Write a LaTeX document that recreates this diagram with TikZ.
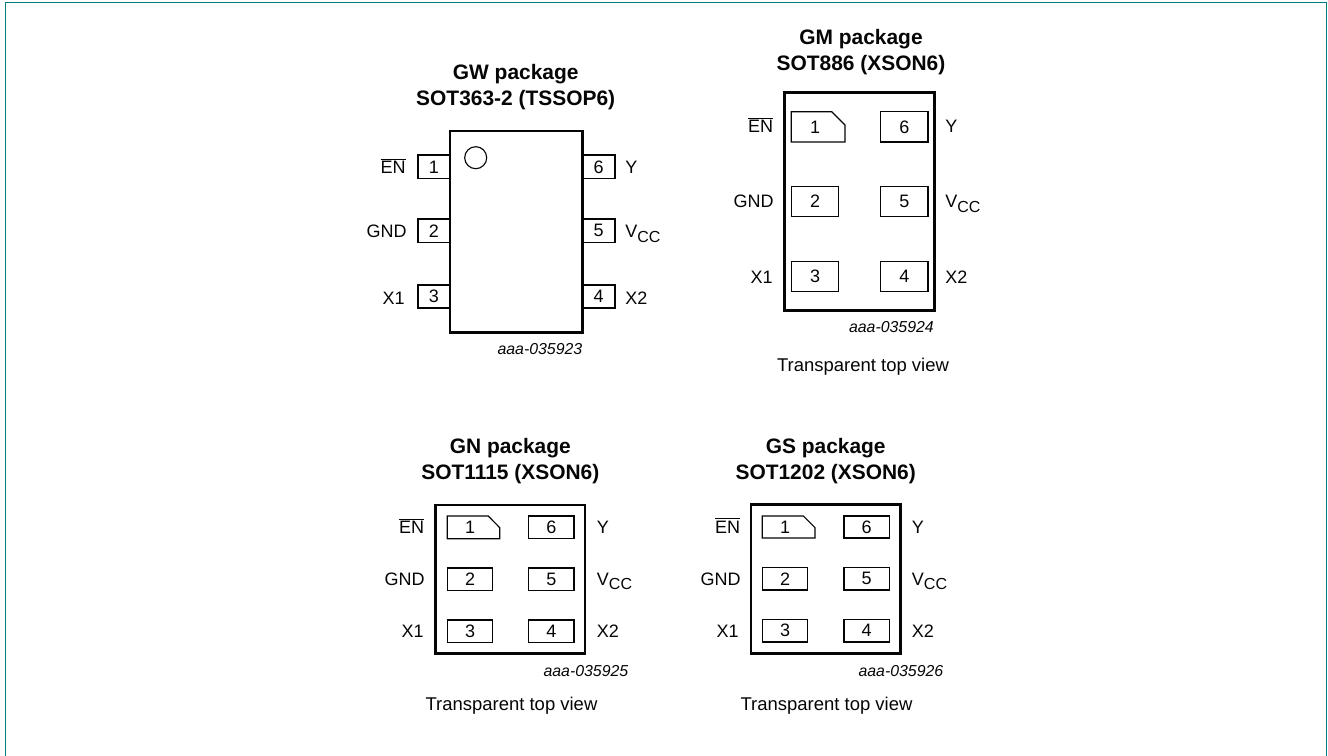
\documentclass[tikz,border=0pt]{standalone}
\usepackage{fontspec}
\setmainfont{Liberation Sans}
\definecolor{frameteal}{RGB}{0,125,130}
\definecolor{ink}{RGB}{5,5,5}
\newcommand{\ovEN}{$\overline{\mbox{EN}}$}
\newcommand{\vcc}{V\raisebox{-0.24em}{\fontsize{12}{12}\selectfont CC}}
\tikzset{
  frameline/.style={draw=frameteal,line width=1.2pt},
  bodybox/.style={draw=ink,line width=1.95pt,fill=white},
  padline/.style={draw=ink,line width=0.85pt,fill=white},
  padnum/.style={text=ink,inner sep=0pt,font=\fontsize{13.5}{16}\selectfont},
  pinL/.style={anchor=base east,text=ink,inner sep=0pt,font=\fontsize{13.5}{16}\selectfont},
  pinR/.style={anchor=base west,text=ink,inner sep=0pt,font=\fontsize{13.5}{16}\selectfont},
  titletext/.style={align=center,text=ink,inner sep=0pt,font=\fontsize{15.7}{19.5}\bfseries\selectfont},
  codetext/.style={anchor=east,text=ink,inner sep=0pt,font=\fontsize{11.9}{14}\itshape\selectfont},
  viewtext/.style={text=ink,inner sep=0pt,font=\fontsize{13.85}{16}\selectfont}
}
% name, x1, y1, x2, y2, number
\newcommand{\pkgpad}[6]{%
  \draw[padline] (#2,#3) rectangle (#4,#5);
  \node[padnum] (#1) at ({(#2+#4)/2},{(#3+#5)/2}) {#6};}
% name, x1, y1, x2 (text-side), xc (chamfer start), x3 (outer right), yc, y2
\newcommand{\pkgchamfer}[8]{%
  \draw[padline] (#2,#3) -- (#5,#3) -- (#6,#7) -- (#6,#8) -- (#2,#8) -- cycle;
  \node[padnum] (#1) at ({(#2+#4)/2},{(#3+#8)/2}) {1};}
\begin{document}
\begin{tikzpicture}[x=0.75pt,y=-0.75pt]
\useasboundingbox (0,0) rectangle (1328,756);
\draw[frameline] (5.5,756) -- (5.5,2.5) -- (1326.3,2.5) -- (1326.3,756);

% ---- GW
\node[titletext] (gwt) at (515.7,87.5) {GW package\\SOT363-2 (TSSOP6)};
\pkgpad{gwa}{418}{155}{450}{178.7}{1}
\pkgpad{gwb}{418}{219}{450}{242.7}{2}
\pkgpad{gwc}{418}{285}{450}{308}{3}
\pkgpad{gwf}{582}{155}{615}{178.7}{6}
\pkgpad{gwe}{582}{219}{615}{242.7}{5}
\pkgpad{gwd}{582}{285}{615}{308}{4}
\draw[bodybox,fill=none] (450,131) rectangle (582.3,332.3);
\node[draw=ink,line width=0.85pt,circle,inner sep=0pt,minimum size=16.5pt] (gwdot) at (475.7,157.7) {};
\node[pinL] (gwl1) at (406,173.5) {\ovEN};
\node[pinL] (gwl2) at (407,238) {GND};
\node[pinL] (gwl3) at (405,304) {X1};
\node[pinR] (gwr1) at (625,173.5) {Y};
\node[pinR] (gwr2) at (625,238) {\vcc};
\node[pinR] (gwr3) at (625,304) {X2};
\node[codetext] (gwc0) at (582.5,349) {aaa-035923};

% ---- GM
\node[titletext] (gmt) at (861,52.5) {GM package\\SOT886 (XSON6)};
\draw[bodybox] (784.3,92.7) rectangle (934.3,310.7);
\pkgchamfer{gma}{791.3}{111.7}{838.7}{831.7}{845}{125}{142}
\pkgpad{gmb}{791.3}{186.3}{838.7}{216.7}{2}
\pkgpad{gmc}{791.3}{261.3}{838.7}{291.3}{3}
\pkgpad{gmf}{880.7}{111.7}{928}{142}{6}
\pkgpad{gme}{880.7}{186.3}{928}{216.7}{5}
\pkgpad{gmd}{880.7}{261.3}{928}{291.3}{4}
\node[pinL] (gml1) at (773.5,133) {\ovEN};
\node[pinL] (gml2) at (774,208) {GND};
\node[pinL] (gml3) at (773,283) {X1};
\node[pinR] (gmr1) at (945,133) {Y};
\node[pinR] (gmr2) at (945,208) {\vcc};
\node[pinR] (gmr3) at (945,283) {X2};
\node[codetext] (gmc0) at (934,326.7) {aaa-035924};
\node[viewtext] (gmv) at (863,366.7) {Transparent top view};

% ---- GN
\node[titletext] (gnt) at (510.3,461) {GN package\\SOT1115 (XSON6)};
\draw[bodybox] (435.7,505) rectangle (585,653.3);
\pkgchamfer{gna}{447.3}{516}{492.7}{488.3}{499.7}{527.7}{538.7}
\pkgpad{gnb}{447.3}{568}{492.7}{590.3}{2}
\pkgpad{gnc}{447.3}{620}{492.7}{642.3}{3}
\pkgpad{gnf}{528.7}{516}{574}{538.7}{6}
\pkgpad{gne}{528.7}{568}{574}{590.3}{5}
\pkgpad{gnd}{528.7}{620}{574}{642.3}{4}
\node[pinL] (gnl1) at (424.5,533.5) {\ovEN};
\node[pinL] (gnl2) at (425,585.5) {GND};
\node[pinL] (gnl3) at (424,637.5) {X1};
\node[pinR] (gnr1) at (596.7,533.5) {Y};
\node[pinR] (gnr2) at (596.7,585.5) {\vcc};
\node[pinR] (gnr3) at (596.7,637.5) {X2};
\node[codetext] (gnc0) at (628.5,670.7) {aaa-035925};
\node[viewtext] (gnv) at (511.5,706) {Transparent top view};

% ---- GS
\node[titletext] (gst) at (825.7,461) {GS package\\SOT1202 (XSON6)};
\draw[bodybox] (751,504.3) rectangle (900.7,653.3);
\pkgchamfer{gsa}{762.3}{516}{807.7}{803.3}{815}{527.7}{538}
\pkgpad{gsb}{762.3}{567.5}{807.7}{590}{2}
\pkgpad{gsc}{762.3}{619.5}{807.7}{642}{3}
\pkgpad{gsf}{844}{516}{889.3}{538}{6}
\pkgpad{gse}{844}{567.5}{889.3}{590}{5}
\pkgpad{gsd}{844}{619.5}{889.3}{642}{4}
\node[pinL] (gsl1) at (740.5,533) {\ovEN};
\node[pinL] (gsl2) at (741,585) {GND};
\node[pinL] (gsl3) at (739,637) {X1};
\node[pinR] (gsr1) at (911.7,533) {Y};
\node[pinR] (gsr2) at (911.7,585) {\vcc};
\node[pinR] (gsr3) at (911.7,637) {X2};
\node[codetext] (gsc0) at (943.5,670.7) {aaa-035926};
\node[viewtext] (gsv) at (826.5,706) {Transparent top view};
\end{tikzpicture}
\end{document}
